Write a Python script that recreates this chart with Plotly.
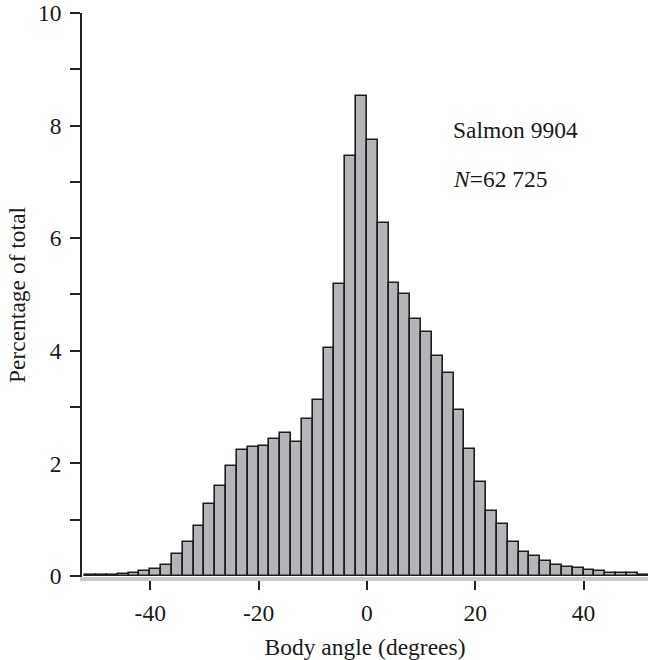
import plotly.graph_objects as go

# Bin centres (degrees), bins are 2 degrees wide
bin_centers = list(range(-51, 52, 2))
percentages = [
    0.01, 0.01, 0.02, 0.03, 0.06, 0.09, 0.12, 0.20, 0.38, 0.61,
    0.88, 1.28, 1.59, 1.96, 2.24, 2.29, 2.31, 2.44, 2.54, 2.37,
    2.79, 3.12, 4.05, 5.19, 7.46, 8.52, 7.74, 6.27, 5.20, 5.00,
    4.56, 4.34, 3.90, 3.60, 2.94, 2.26, 1.66, 1.16, 0.92, 0.61,
    0.43, 0.35, 0.27, 0.20, 0.15, 0.14, 0.10, 0.08, 0.06, 0.05,
    0.05, 0.02,
]
x_ticks = [-40, -20, 0, 20, 40]
y_ticks = [0, 2, 4, 6, 8, 10]

FONT = "Liberation Serif, Times New Roman, serif"
TXT = "#1a1a1a"

fig = go.Figure()
fig.add_trace(go.Bar(
    x=bin_centers, y=percentages, width=2,
    marker=dict(color="#b4b5b9", line=dict(color="#1e1e1e", width=1.6)),
    showlegend=False,
))

fig.add_annotation(x=15.6, y=7.92, xref="x", yref="y", text="Salmon 9904",
                   showarrow=False, xanchor="left", yanchor="middle",
                   font=dict(family=FONT, size=23.5, color=TXT))
fig.add_annotation(x=15.6, y=7.05, xref="x", yref="y", text="<i>N</i>=62 725",
                   showarrow=False, xanchor="left", yanchor="middle",
                   font=dict(family=FONT, size=23.5, color=TXT))

fig.update_layout(
    width=648, height=660,
    margin=dict(l=82, r=0, t=13, b=80),
    plot_bgcolor="white", paper_bgcolor="white",
    bargap=0,
    font=dict(family=FONT, size=23.5, color=TXT),
    xaxis=dict(
        range=[-52.6, 51.9], tickvals=x_ticks, ticktext=[str(v) for v in x_ticks],
        tickfont=dict(family=FONT, size=23.5, color=TXT),
        showgrid=False, zeroline=False,
        showline=True, linecolor="#c9c9c9", linewidth=4,
        ticks="outside", ticklen=9, tickwidth=1.5, tickcolor="#222",
        ticklabelstandoff=3,
        title=dict(text="Body angle (degrees)", standoff=17,
                   font=dict(family=FONT, size=23.5, color=TXT)),
    ),
    yaxis=dict(
        range=[-0.02, 10], tickvals=y_ticks, ticktext=[str(v) for v in y_ticks],
        tickfont=dict(family=FONT, size=23.5, color=TXT),
        showgrid=False, zeroline=False,
        showline=True, linecolor="#222", linewidth=1.5,
        ticks="outside", ticklen=10, tickwidth=1.5, tickcolor="#222",
        ticklabelstandoff=4,
        minor=dict(dtick=1, tick0=0, ticks="outside", ticklen=10, tickwidth=1.5,
                   tickcolor="#222", showgrid=False),
        title=dict(text="Percentage of total", standoff=6,
                   font=dict(family=FONT, size=23.5, color=TXT)),
    ),
)

fig.write_html("out.html")
